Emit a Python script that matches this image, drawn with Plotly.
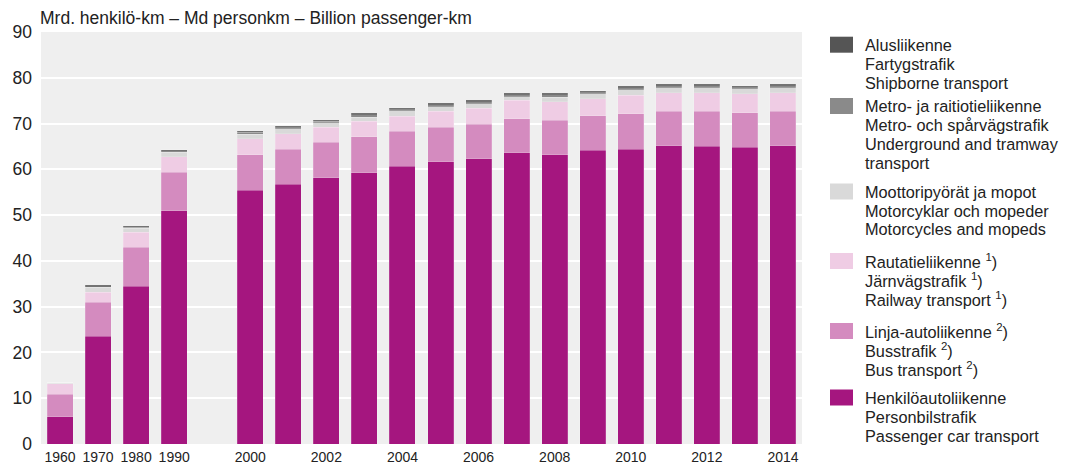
import plotly.graph_objects as go

# ---------------- data ----------------
years = ['1960', '1970', '1980', '1990', '2000', '2001', '2002', '2003', '2004',
         '2005', '2006', '2007', '2008', '2009', '2010', '2011', '2012', '2013', '2014']
car = [5.9, 23.5, 34.5, 50.9, 55.4, 56.7, 58.2, 59.3, 60.7, 61.7, 62.3, 63.6,
       63.2, 64.2, 64.4, 65.2, 65.0, 64.8, 65.2]
bus = [5.0, 7.5, 8.5, 8.5, 7.8, 7.7, 7.7, 7.8, 7.6, 7.5, 7.5, 7.5,
       7.5, 7.5, 7.7, 7.5, 7.7, 7.6, 7.5]
rail = [2.3, 2.2, 3.3, 3.4, 3.5, 3.4, 3.3, 3.4, 3.3, 3.5, 3.5, 4.0,
        4.1, 3.7, 4.1, 4.0, 4.0, 4.1, 4.0]
moto = [0.1, 1.0, 0.8, 0.9, 1.0, 1.1, 1.0, 0.9, 1.2, 1.0, 1.0, 0.8,
        0.9, 1.1, 1.2, 1.1, 1.1, 1.1, 1.1]
metro = [0.1, 0.2, 0.2, 0.4, 0.4, 0.4, 0.3, 0.5, 0.4, 0.4, 0.5, 0.4,
         0.6, 0.4, 0.4, 0.5, 0.5, 0.4, 0.5]
ship = [0.0, 0.3, 0.3, 0.2, 0.2, 0.2, 0.2, 0.3, 0.3, 0.3, 0.3, 0.3,
        0.3, 0.3, 0.3, 0.3, 0.3, 0.3, 0.3]

labelled_years = ['1960', '1970', '1980', '1990', '2000', '2002', '2004',
                  '2006', '2008', '2010', '2012', '2014']

series_names = ['Henkilöautoliikenne', 'Linja-autoliikenne', 'Rautatieliikenne',
                'Moottoripyörät ja mopot', 'Metro- ja raitiotieliikenne', 'Alusliikenne']
series_values = [car, bus, rail, moto, metro, ship]
series_colors = ['#a5167f', '#d48bbf', '#efcce4', '#d9d9d9', '#8a8a8a', '#555555']

legend_lines = [
    ['Henkilöautoliikenne', 'Personbilstrafik', 'Passenger car transport'],
    ['Linja-autoliikenne <sup>2</sup>)', 'Busstrafik <sup>2</sup>)', 'Bus transport <sup>2</sup>)'],
    ['Rautatieliikenne <sup>1</sup>)', 'Järnvägstrafik <sup>1</sup>)', 'Railway transport <sup>1</sup>)'],
    ['Moottoripyörät ja mopot', 'Motorcyklar och mopeder', 'Motorcycles and mopeds'],
    ['Metro- ja raitiotieliikenne', 'Metro- och spårvägstrafik', 'Underground and tramway', 'transport'],
    ['Alusliikenne', 'Fartygstrafik', 'Shipborne transport'],
]

# ---------------- layout constants ----------------
W, H = 1068, 464
PL, PR, PT, PB = 41, 802, 32, 444
FONT = 'Liberation Sans, Arial, sans-serif'
TXT = '#222222'

# slot positions: a blank slot between 1990 and 2000
pos = [i if i < 4 else i + 1 for i in range(len(years))]
pos_of = dict(zip(years, pos))

fig = go.Figure()
for name, vals, col in zip(series_names, series_values, series_colors):
    fig.add_trace(go.Bar(
        x=pos, y=vals, name=name, marker_color=col,
        marker_line=dict(width=0.5, color='rgba(255,255,255,0.35)'),
        showlegend=False,
    ))

# ---------------- manual legend ----------------
def px2x(px):
    return (px - PL) / (PR - PL)

def py2y(py):
    return (PB - py) / (PB - PT)

entry_first_line = [397.5, 331, 261, 191.5, 106, 44.7]  # pixel centres of first lines
line_step = 19.0
shapes = []
annotations = []
for lines, col, yc in zip(legend_lines, series_colors, entry_first_line):
    shapes.append(dict(type='rect', xref='paper', yref='paper',
                       x0=px2x(830), x1=px2x(853), y0=py2y(yc + 8), y1=py2y(yc - 8),
                       fillcolor=col, line=dict(width=0)))
    for i, ln in enumerate(lines):
        annotations.append(dict(
            xref='paper', yref='paper', x=px2x(863), y=py2y(yc + i * line_step),
            xanchor='left', yanchor='middle', text=ln, showarrow=False,
            font=dict(family=FONT, size=16.3, color=TXT)))

annotations.append(dict(
    xref='paper', yref='paper', x=px2x(38), y=1, xanchor='left', yanchor='bottom',
    yshift=2, text='Mrd. henkilö-km – Md personkm – Billion passenger-km', showarrow=False,
    font=dict(family=FONT, size=17.5, color=TXT)))

fig.update_layout(
    width=W, height=H,
    margin=dict(l=PL, r=W - PR, t=PT, b=H - PB, pad=0, autoexpand=False),
    paper_bgcolor='white', plot_bgcolor='#efefef',
    barmode='stack', bargap=0.316,
    font=dict(family=FONT, color=TXT),
    shapes=shapes, annotations=annotations,
    xaxis=dict(
        range=[-0.5, 19.5], showgrid=False, zeroline=False, showline=False,
        automargin=False,
        tickmode='array', tickvals=[pos_of[y] for y in labelled_years], ticktext=labelled_years,
        tickfont=dict(family=FONT, size=14, color=TXT), ticks='', ticklabelstandoff=3,
    ),
    yaxis=dict(
        range=[0, 90], tickmode='linear', tick0=0, dtick=10, automargin=False,
        showgrid=True, gridcolor='white', gridwidth=2, zeroline=False, showline=False,
        tickfont=dict(family=FONT, size=17.5, color=TXT), ticks='', ticklabelstandoff=8,
    ),
)

fig.write_html('out.html', config={'displayModeBar': False},
               post_script="document.body.style.margin='0';document.body.style.overflow='hidden';")
